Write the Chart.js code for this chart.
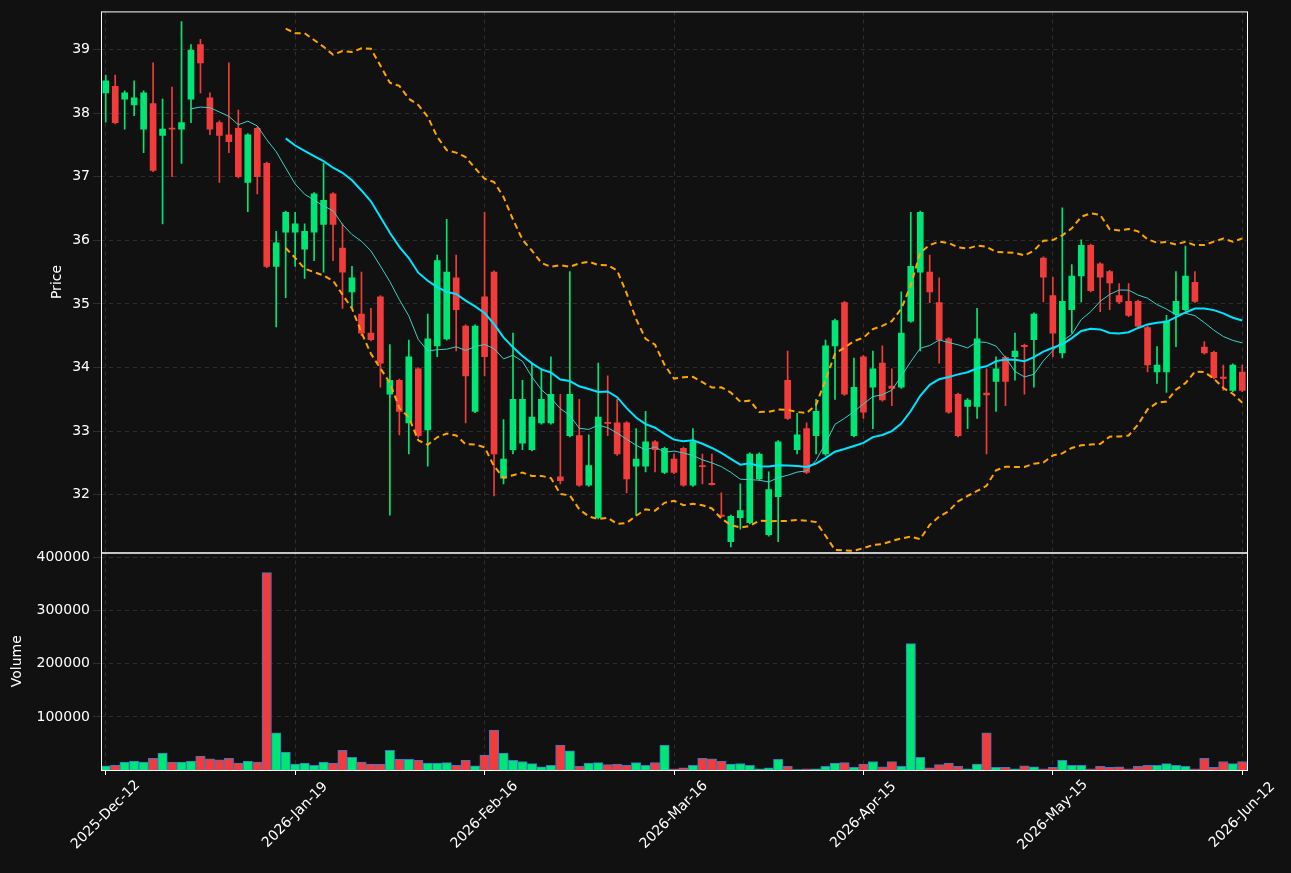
<!DOCTYPE html>
<html><head><meta charset="utf-8">
<script src="https://cdn.jsdelivr.net/npm/chart.js@4/dist/chart.umd.min.js"></script>
<style>
body{margin:0;background:#111111;width:1291px;height:873px;overflow:hidden;}
#top{position:absolute;left:0;top:0;width:1291px;height:564px;}
#bot{position:absolute;left:0;top:541px;width:1291px;height:332px;}
</style></head><body>
<div id="bot"><canvas id="volChart"></canvas></div>
<div id="top"><canvas id="priceChart"></canvas></div>
<script>
'use strict';
const tickLabels = ['2025-Dec-12','2026-Jan-19','2026-Feb-16','2026-Mar-16','2026-Apr-15','2026-May-15','2026-Jun-12'];
const opens  = [38.32,38.42,38.22,38.13,37.75,38.15,37.65,37.76,37.75,38.22, 39.08,38.24,37.85,37.66,37.76,36.91,37.76,37.21,35.59,36.13,
                36.13,35.86,36.13,36.25,36.73,35.88,35.19,34.84,34.54,35.11, 33.58,33.80,33.13,33.98,33.02,34.34,34.45,35.41,34.65,33.31,
                35.11,35.50,32.26,32.71,32.81,32.71,33.13,33.13,32.28,32.93, 32.93,32.15,31.64,33.14,33.13,33.13,32.45,32.45,32.83,32.35,
                32.56,32.73,32.15,32.46,32.18,31.68,31.26,31.64,31.56,32.25, 31.37,31.97,33.80,32.71,33.04,32.93,32.64,34.34,35.02,32.93,
                34.17,33.69,34.07,33.71,33.69,34.73,35.50,35.50,35.02,34.45, 33.58,33.39,33.39,33.60,33.78,34.16,34.17,34.35,34.44,35.72,
                35.13,34.23,34.91,35.44,35.92,35.63,35.51,35.13,35.04,35.04, 34.63,33.93,33.93,34.84,34.91,35.34,34.32,34.24,33.85,33.64,33.93];
const highs  = [38.60,38.60,38.35,38.51,38.35,38.79,38.22,38.41,39.44,39.08, 39.16,38.32,37.88,38.79,38.05,37.68,37.78,37.23,36.14,36.46,
                36.44,36.26,36.75,37.21,36.75,36.26,35.59,35.50,34.93,35.13, 34.36,33.82,34.43,34.00,34.84,35.77,36.33,35.77,34.67,34.67,
                36.44,35.52,33.18,34.54,33.80,34.07,33.98,34.17,33.58,35.51, 33.50,32.94,34.07,33.87,33.50,33.15,33.04,33.31,32.85,32.75,
                32.64,32.75,33.04,32.64,32.64,32.03,31.68,32.17,32.66,32.66, 32.36,32.85,34.26,33.28,33.13,33.50,34.43,34.76,35.04,34.15,
                34.19,34.26,34.34,33.98,35.19,36.44,36.46,35.77,35.41,34.47, 33.60,33.51,34.93,33.98,34.17,34.18,34.54,34.37,34.86,35.74,
                35.42,36.51,35.62,36.01,35.94,35.65,35.53,35.32,35.32,35.06, 34.65,34.33,34.82,35.51,35.91,35.51,34.41,34.26,34.04,34.06,34.04];
const lows   = [37.86,37.83,37.75,37.96,37.38,37.08,36.26,37.00,37.21,37.85, 38.32,37.66,36.91,37.38,36.98,36.45,36.73,35.57,34.64,35.10,
                35.59,35.40,35.68,35.50,35.68,34.93,34.93,34.50,34.42,33.69, 31.68,32.94,32.64,32.90,32.45,34.17,34.43,34.26,33.13,33.29,
                33.87,31.98,32.17,32.64,32.71,32.69,33.11,33.11,32.17,32.91, 32.13,32.13,31.62,32.93,32.62,32.03,31.68,32.36,32.36,32.33,
                32.33,32.13,32.13,32.17,32.15,31.65,31.18,31.46,31.54,32.23, 31.35,31.26,33.18,32.64,32.33,32.64,32.62,33.50,33.56,32.91,
                33.20,33.04,33.47,33.40,33.67,34.71,34.26,35.02,34.07,33.28, 32.91,33.04,33.20,32.64,33.31,33.40,33.80,33.58,33.69,35.03,
                34.17,34.15,34.54,35.03,35.19,34.88,34.91,35.01,34.80,34.63, 33.93,33.75,33.61,34.33,34.89,35.02,34.21,33.82,33.64,33.62,33.62];
const closes = [38.51,37.85,38.32,38.24,38.32,37.10,37.75,37.75,37.85,38.99, 38.79,37.75,37.65,37.55,37.00,37.66,37.00,35.59,35.96,36.44,
                36.26,36.14,36.73,36.63,36.25,35.50,35.41,34.54,34.44,34.07, 33.80,33.31,34.17,32.93,34.45,35.68,35.50,34.91,33.87,34.65,
                34.17,32.64,32.56,33.50,33.50,33.22,33.50,33.58,32.22,33.58, 32.15,32.46,33.22,33.12,32.64,32.25,32.56,32.83,32.71,32.73,
                32.35,32.15,32.83,32.44,32.16,31.66,31.66,31.75,32.64,32.64, 32.08,32.83,33.20,32.94,32.35,33.31,34.34,34.74,33.58,33.69,
                33.30,33.98,33.49,33.67,34.54,35.59,36.44,35.19,34.44,33.30, 32.93,33.49,34.45,33.57,33.98,33.78,34.26,34.33,34.84,35.42,
                34.54,35.04,35.44,35.92,35.21,35.42,35.33,35.03,34.82,34.65, 34.04,34.04,34.73,35.04,35.44,35.04,34.23,33.84,33.83,34.04,33.64];
const volumes = [8000,9000,15000,17000,15000,22000,32000,15000,15000,17000, 26000,21000,19000,22000,13000,17000,15000,372000,70000,34000,
                 11000,13000,9000,15000,13000,37000,24000,15000,11000,11000, 37000,20000,20000,18000,13000,13000,14000,9000,18000,8000,
                 28000,75000,32000,18000,16000,12000,6000,9000,47000,36000, 7000,13000,14000,10000,11000,9000,14000,9000,14000,47000,
                 2000,4000,9000,22000,21000,17000,11000,12000,9000,2000, 4000,20000,7000,1000,2000,2000,7000,13000,14000,5000,
                 11000,16000,6000,16000,7000,238000,24000,4000,10000,13000, 7000,2000,11000,70000,5000,5000,2000,8000,6000,2000,
                 5000,18000,9000,9000,2000,7000,5000,6000,2000,7000, 9000,9000,12000,9000,7000,2000,22000,5000,16000,12000,16000];

const UP = '#00e676', DOWN = '#f23c3c';
const idx = closes.map((_, i) => i);
const colors = closes.map((c, i) => (c >= opens[i] ? UP : DOWN));

function sma(n) {
  return closes.map((_, i) => {
    if (i < n - 1) return null;
    let s = 0; for (let k = i - n + 1; k <= i; k++) s += closes[k];
    return s / n;
  });
}
function band(n, mult) {
  const m = sma(n);
  return closes.map((_, i) => {
    if (m[i] === null) return null;
    let v = 0; for (let k = i - n + 1; k <= i; k++) v += (closes[k] - m[i]) ** 2;
    return m[i] + mult * Math.sqrt(v / n);
  });
}
const ma10 = sma(10), ma20 = sma(20), bbUp = band(20, 2), bbLo = band(20, -2);

const GRID = 'rgba(255,255,255,0.13)';
const gridColor = ctx => (ctx.index % 20 === 0 ? GRID : 'transparent');
const frame = {
  id: 'frame',
  afterDraw(c) {
    const a = c.chartArea, x = c.ctx;
    x.save(); x.strokeStyle = '#ffffff'; x.lineWidth = 1;
    x.strokeRect(a.left + 0.5, a.top + 0.5, a.right - a.left, a.bottom - a.top);
    x.restore();
  }
};
// matplotlib-style rotated date labels, centred under the tick
const dateLabels = {
  id: 'dateLabels',
  afterDraw(c) {
    const s = c.scales.x, x = c.ctx;
    x.save(); x.fillStyle = '#ffffff'; x.font = '14px "DejaVu Sans"';
    x.textAlign = 'center'; x.textBaseline = 'middle';
    tickLabels.forEach((t, k) => {
      x.save();
      x.translate(s.getPixelForValue(k * 20), c.chartArea.bottom + 45);
      x.rotate(-Math.PI / 4);
      x.fillText(t, 0, 0);
      x.restore();
    });
    x.restore();
  }
};
Chart.defaults.font.family = 'DejaVu Sans';
Chart.defaults.font.size = 14;
Chart.defaults.color = '#ffffff';
Chart.defaults.animation = false;

new Chart(document.getElementById('priceChart'), {
  data: {
    labels: idx,
    datasets: [
      { type: 'bar', data: idx.map(i => [lows[i], highs[i]]), backgroundColor: colors, barThickness: 1, grouped: false, order: 3 },
      { type: 'bar', data: idx.map(i => [opens[i], closes[i]]), backgroundColor: colors, barThickness: 6, grouped: false, minBarLength: 1, order: 2 },
      { type: 'line', data: ma10, borderColor: '#3fd0c8', borderWidth: 1, pointRadius: 0, order: 1 },
      { type: 'line', data: ma20, borderColor: '#00e5ff', borderWidth: 2, pointRadius: 0, order: 1 },
      { type: 'line', data: bbUp, borderColor: '#ffa500', borderWidth: 2, borderDash: [6, 4], pointRadius: 0, order: 1 },
      { type: 'line', data: bbLo, borderColor: '#ffa500', borderWidth: 2, borderDash: [6, 4], pointRadius: 0, order: 1 }
    ]
  },
  options: {
    responsive: true, maintainAspectRatio: false,
    layout: { padding: { top: 10, right: 44, bottom: 1, left: 45 } },
    plugins: { legend: { display: false }, tooltip: { enabled: false } },
    scales: {
      x: {
        type: 'category', offset: true,
        afterFit: s => { s.height = 0; },
        grid: { color: gridColor, offset: false, drawTicks: false },
        border: { display: false, dash: [4, 4] },
        ticks: { display: false, autoSkip: false }
      },
      y: {
        min: 31.09, max: 39.6,
        afterFit: s => { s.width = 56; },
        afterBuildTicks: s => { s.ticks = [32, 33, 34, 35, 36, 37, 38, 39].map(v => ({ value: v })); },
        grid: { color: GRID }, border: { display: false, dash: [4, 4] },
        ticks: { color: '#ffffff' },
        title: { display: true, text: 'Price', color: '#ffffff', font: { size: 14 } }
      }
    }
  },
  plugins: [frame]
});

new Chart(document.getElementById('volChart'), {
  data: {
    labels: idx,
    datasets: [
      { type: 'bar', data: volumes, backgroundColor: colors, borderColor: '#3a78c8', borderWidth: 1, barPercentage: 1, categoryPercentage: 1 }
    ]
  },
  options: {
    responsive: true, maintainAspectRatio: false,
    layout: { padding: { top: 0, right: 44, bottom: 0, left: 5 } },
    plugins: { legend: { display: false }, tooltip: { enabled: false } },
    scales: {
      x: {
        type: 'category', offset: true,
        afterFit: s => { s.height = 103; },
        grid: { color: gridColor, offset: false, tickColor: c => (c.index % 20 === 0 ? '#ffffff' : 'transparent'), tickLength: 5 },
        border: { display: false, dash: [4, 4] },
        ticks: { autoSkip: false, display: false }
      },
      y: {
        min: 0, max: 410000,
        afterFit: s => { s.width = 96; },
        afterBuildTicks: s => { s.ticks = [100000, 200000, 300000, 400000].map(v => ({ value: v })); },
        grid: { color: GRID }, border: { display: false, dash: [4, 4] },
        ticks: { color: '#ffffff', callback: v => String(v) },
        title: { display: true, text: 'Volume', color: '#ffffff', font: { size: 14 } }
      }
    }
  },
  plugins: [frame, dateLabels]
});
</script>
</body></html>
